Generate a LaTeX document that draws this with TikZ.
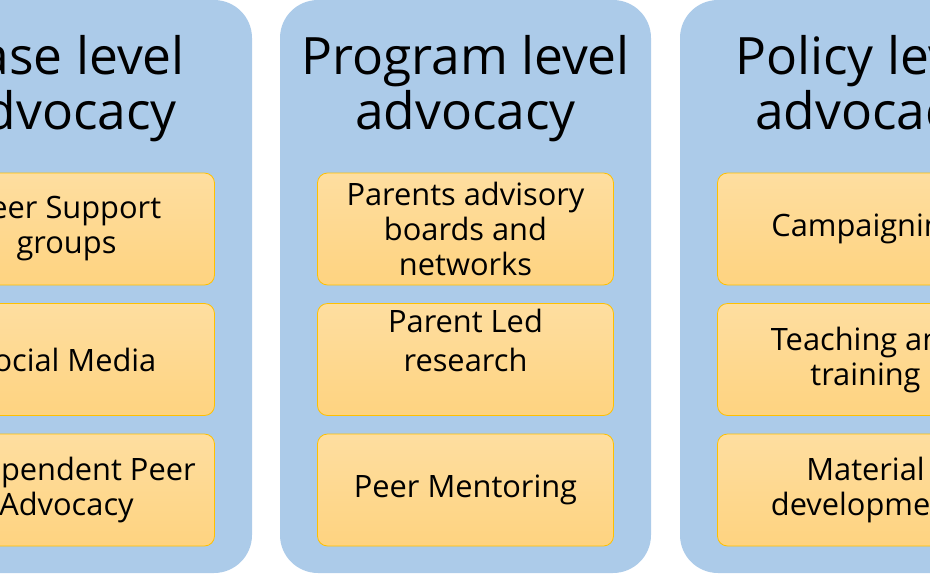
\documentclass[tikz,border=0pt]{standalone}
\usepackage{fontspec}
\setmainfont{Open Sans}
\definecolor{levelblue}{RGB}{172,203,233}
\definecolor{itemtop}{RGB}{254,222,160}
\definecolor{itembottom}{RGB}{254,211,128}
\definecolor{itemline}{RGB}{255,192,0}

\begin{document}
\begin{tikzpicture}[x=1pt, y=-1pt,
  level/.style={shape=rectangle, fill=levelblue, draw=none, rounded corners=38pt, minimum width=371pt, minimum height=573pt},
  leveltitle/.style={align=center, inner sep=0pt, font=\fontsize{51.5}{55}\selectfont},
  item/.style={shape=rectangle, draw=itemline, line width=0.8pt, top color=itemtop, bottom color=itembottom, rounded corners=10pt, minimum width=296pt, minimum height=112pt, align=center, font=\fontsize{30.8}{35}\selectfont}]
%%%%%%%%%%%%%%%%%%%%%%%%%%%%%%%%%%%%%%%%%%% HELP LINES
%\draw[help lines] (0,0) grid +(930,574);
\useasboundingbox (0,0) rectangle (930,574);
\clip (0,0) rectangle (930,574);

%%%%%%%%%%%%%%%%%%%%%%%%%%%%%%%%%%%%%%%%%%% columns
\node[level](casecol) at (66.5,286.5) {};
\node[level](programcol) at (465.5,286.5) {};
\node[level](policycol) at (865.5,286.5) {};

%%%%% titles
\node[leveltitle](casetitle) at (66.5,89) {Case level\\advocacy};
\node[leveltitle](programtitle) at (465.5,89) {Program level\\advocacy};
\node[leveltitle](policytitle) at (865.5,89) {Policy level\\advocacy};

%%%%% case level
\node[item](support) at (66.5,229) {Peer Support\\groups};
\node[item](media) at (66.5,359.5) {Social Media};
\node[item](independent) at (66.5,490) {Independent Peer\\Advocacy};

%%%%% program level
\node[item](boards) at (465.5,229) {Parents advisory\\boards and\\networks};
\node[item](research) at (465.5,359.5) {Parent Led\\[4pt]research\\[-7pt]\strut};
\node[item](mentoring) at (465.5,490) {Peer Mentoring};

%%%%% policy level
\node[item](campaign) at (865.5,229) {Campaigning};
\node[item](teaching) at (865.5,359.5) {Teaching and\\training};
\node[item](material) at (865.5,490) {Material\\development};
\end{tikzpicture}
\end{document}
